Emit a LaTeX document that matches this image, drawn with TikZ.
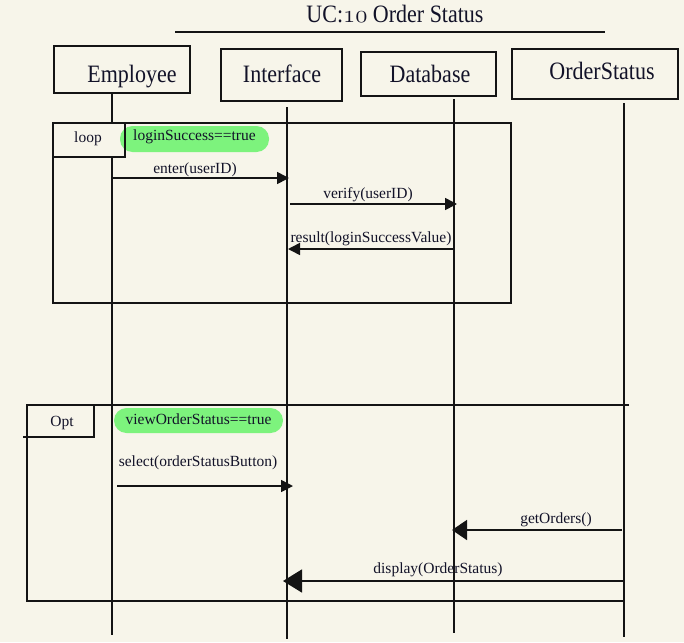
\documentclass[tikz,border=0pt]{standalone}
\usepackage{fontspec}
\setmainfont{Liberation Serif}
\newfontfamily\headfont[FakeStretch=0.88]{Liberation Serif}
\usetikzlibrary{arrows.meta}
\definecolor{bgcream}{RGB}{247,245,234}
\definecolor{inkline}{RGB}{20,20,20}
\definecolor{inktext}{RGB}{18,18,40}
\definecolor{pillgreen}{RGB}{125,243,125}
\begin{document}
\begin{tikzpicture}[x=1pt,y=-1pt,
  hbox/.style={draw=inkline, line width=1.7pt, inner sep=0pt},
  htext/.style={font=\headfont\fontsize{25}{28}\selectfont, text=inktext, anchor=base, inner sep=0pt},
  lbl/.style={font=\fontsize{15.5}{18}\selectfont, text=inktext, anchor=base, inner sep=0pt},
  life/.style={draw=inkline, line width=1.4pt},
  frame/.style={draw=inkline, line width=1.7pt},
  msg/.style={draw=inkline, line width=1.6pt, -{Triangle[length=12pt,width=12pt]}},
  pill/.style={fill=pillgreen, rounded corners=12.5pt, inner sep=0pt, font=\fontsize{15.5}{18}\selectfont, text=inktext}
]
\useasboundingbox[fill=bgcream] (0,0) rectangle (684,642);

% title
\node[htext] (title) at (395,23) {UC:$\mathnormal{10}$ Order Status};
\coordinate (tl1) at (175,32);
\coordinate (tl2) at (605,32);
\draw[line width=1.6pt, inkline] (tl1) -- (tl2);

% header boxes
\node[hbox, minimum width=136pt, minimum height=47pt] (emp) at (122,69.5) {};
\node[hbox, minimum width=121pt, minimum height=52pt] (int) at (281.5,75) {};
\node[hbox, minimum width=135pt, minimum height=44pt] (db) at (428.5,74) {};
\node[hbox, minimum width=166pt, minimum height=50pt] (os) at (595,74) {};
\node[htext] (empt) at (132,82) {Employee};
\node[htext] (intt) at (282,82) {Interface};
\node[htext] (dbt) at (430,82) {Database};
\node[htext] (ost) at (602,79) {OrderStatus};

% lifelines
\coordinate (empA) at (112,93);   \coordinate (empB) at (112,635);
\coordinate (intA) at (287,107);  \coordinate (intB) at (287,639);
\coordinate (dbA) at (454,99);    \coordinate (dbB) at (454,633);
\coordinate (osA) at (624,103);   \coordinate (osB) at (624,637);
\draw[life] (empA) -- (empB);
\draw[life] (intA) -- (intB);
\draw[life] (dbA) -- (dbB);
\draw[life] (osA) -- (osB);

% loop frame
\coordinate (lpA) at (53,123);
\coordinate (lpB) at (511,303);
\draw[frame] (lpA) rectangle (lpB);
\fill[bgcream] (54,124) rectangle (124.5,156.5);
\node[pill, minimum width=149pt, minimum height=26pt, text height=7pt, text depth=5pt] (c1) at (194.5,139) {loginSuccess==true};
\coordinate (tabA) at (53,157);
\coordinate (tabB) at (125,157);
\coordinate (tabC) at (125,123);
\draw[frame] (tabA) -- (tabB) -- (tabC);
\node[lbl] (looplbl) at (88,142) {loop};

% loop messages
\coordinate (m1a) at (112,178); \coordinate (m1b) at (289,178);
\draw[msg] (m1a) -- (m1b);
\node[lbl] (l1) at (195,173) {enter(userID)};
\coordinate (m2a) at (290,204); \coordinate (m2b) at (457,204);
\draw[msg] (m2a) -- (m2b);
\node[lbl] (l2) at (368,198) {verify(userID)};
\coordinate (m3a) at (454,249); \coordinate (m3b) at (288,249);
\draw[msg] (m3a) -- (m3b);
\node[lbl] (l3) at (371,242) {result(loginSuccessValue)};

% opt frame
\coordinate (opA) at (27,405); \coordinate (opB) at (629,405);
\coordinate (opC) at (27,601); \coordinate (opD) at (624,601);
\draw[frame] (opB) -- (opA) -- (opC) -- (opD);
\coordinate (otA) at (23,437); \coordinate (otB) at (94,437); \coordinate (otC) at (94,405);
\draw[frame] (otA) -- (otB) -- (otC);
\node[lbl] (optlbl) at (62,426) {Opt};
\node[pill, minimum width=169pt, minimum height=25pt, text height=10pt, text depth=3pt] (c2) at (198.5,420.5) {viewOrderStatus==true};

% opt messages
\coordinate (m4a) at (117,486); \coordinate (m4b) at (293,486);
\draw[msg] (m4a) -- (m4b);
\node[lbl] (l4) at (198,466) {select(orderStatusButton)};
\coordinate (m5a) at (622,530); \coordinate (m5b) at (452,530);
\draw[msg, -{Triangle[length=15pt,width=20pt]}] (m5a) -- (m5b);
\node[lbl] (l5) at (556,523) {getOrders()};
\coordinate (m6a) at (624,581); \coordinate (m6b) at (283,581);
\draw[msg, -{Triangle[length=19pt,width=23pt]}] (m6a) -- (m6b);
\node[lbl] (l6) at (438,573) {display(OrderStatus)};
\end{tikzpicture}
\end{document}
